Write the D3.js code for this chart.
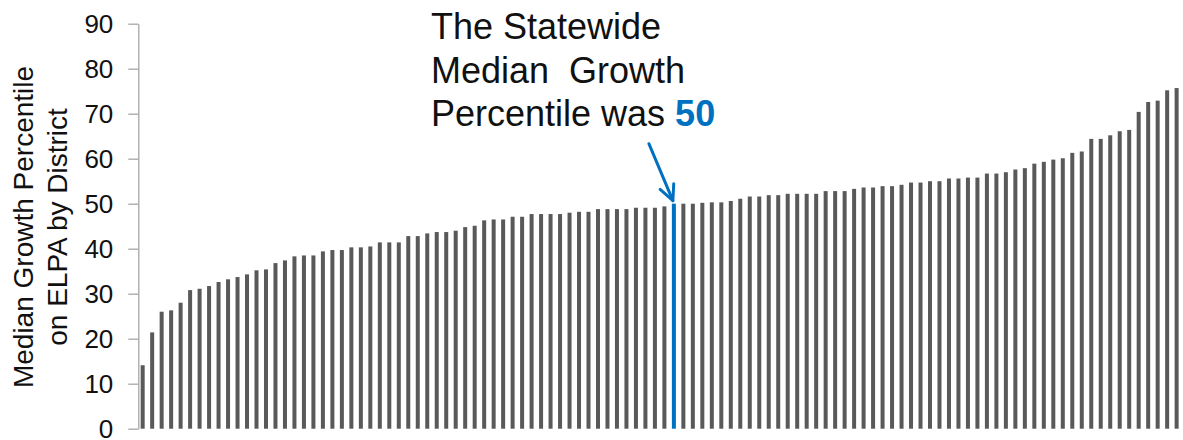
<!DOCTYPE html>
<html>
<head>
<meta charset="utf-8">
<script src="https://cdn.jsdelivr.net/npm/d3@7"></script>
<style>
  html, body { margin: 0; padding: 0; background: #ffffff; }
  svg { display: block; }
  text { font-family: "Liberation Sans", Arial, sans-serif; }
</style>
</head>
<body>
<svg id="chart" width="1183" height="440"></svg>
<script>
// ---- Data (districts sorted by Median Growth Percentile on ELPA) ----
const values = [
  14.1, 21.4, 26.0, 26.3, 28.0, 30.8, 31.1, 31.7, 32.6, 33.2,
  33.7, 34.3, 35.2, 35.4, 36.8, 37.4, 38.3, 38.5, 38.5, 39.4,
  39.7, 39.7, 40.3, 40.3, 40.5, 41.4, 41.4, 41.4, 42.8, 42.8,
  43.4, 43.7, 43.7, 44.0, 44.8, 45.1, 46.3, 46.5, 46.5, 47.1,
  47.1, 47.7, 47.7, 47.7, 47.7, 48.0, 48.2, 48.2, 48.8, 48.8,
  48.8, 48.8, 49.1, 49.1, 49.1, 49.4, 50.0, 50.0, 50.0, 50.2,
  50.3, 50.3, 50.6, 51.1, 51.6, 51.6, 51.9, 51.9, 52.2, 52.2,
  52.2, 52.2, 52.8, 52.8, 52.8, 53.3, 53.6, 53.6, 53.9, 53.9,
  54.2, 54.7, 54.7, 55.0, 55.0, 55.6, 55.6, 55.8, 55.8, 56.7,
  56.7, 57.0, 57.6, 57.9, 58.9, 59.3, 59.8, 60.1, 61.3, 61.6,
  64.4, 64.4, 65.2, 66.1, 66.4, 70.4, 72.6, 72.9, 75.2, 75.7
];
const districts = values.map((d, i) => "District " + (i + 1));
const medianIndex = 56;           // statewide median district (highlighted)
const statewideMedian = 50;
const yTicks = [0, 10, 20, 30, 40, 50, 60, 70, 80, 90];
const yTitleLines = ["Median Growth Percentile", "on ELPA by District"];
const noteLines = ["The Statewide", "Median  Growth", "Percentile was "];
const noteValue = "50";

// ---- Layout ----
const svg = d3.select("#chart");
const axisX = 138.3;
const x = d3.scaleBand()
  .domain(districts)
  .range([axisX, 1181])
  .paddingInner(0.578)
  .paddingOuter(0.25);
const y = d3.scaleLinear().domain([0, 90]).range([428.7, 23.7]);

const blue = "#0070C0";
const gray = "#595959";

// ---- Bars ----
svg.append("g").selectAll("rect")
  .data(values)
  .join("rect")
  .attr("x", (d, i) => x(districts[i]))
  .attr("width", x.bandwidth())
  .attr("y", d => y(d))
  .attr("height", d => y(0) - y(d))
  .attr("fill", (d, i) => i === medianIndex ? blue : gray);

// ---- Y axis ----
const yAxis = svg.append("g")
  .attr("transform", `translate(${axisX},0)`)
  .call(d3.axisLeft(y).tickValues(yTicks).tickSize(10).tickSizeOuter(0).tickPadding(15));
yAxis.select(".domain").attr("stroke", "#a6a6a6").attr("stroke-width", 1.3);
yAxis.selectAll(".tick line").attr("stroke", "#a6a6a6").attr("stroke-width", 1.3);
yAxis.selectAll(".tick text")
  .attr("font-size", 26)
  .attr("fill", "#111")
  .style("font-family", "'Liberation Sans', Arial, sans-serif");

// ---- Y title (two lines) ----
const titleBaselines = [33.3, 66.7];
yTitleLines.forEach((t, i) => {
  svg.append("text")
    .attr("transform", `translate(${titleBaselines[i]},227) rotate(-90)`)
    .attr("text-anchor", "middle")
    .attr("font-size", 28)
    .attr("fill", "#111")
    .text(t);
});

// ---- Annotation ----
const noteX = 431;
const noteBaselines = [39, 83, 126];
noteLines.forEach((t, i) => {
  const tx = svg.append("text")
    .attr("x", noteX)
    .attr("y", noteBaselines[i])
    .attr("font-size", 36)
    .attr("fill", "#111")
    .attr("xml:space", "preserve")
    .style("white-space", "pre")
    .text(t);
  if (i === noteLines.length - 1) {
    tx.append("tspan")
      .attr("font-weight", "bold")
      .attr("fill", blue)
      .text(noteValue);
  }
});

// ---- Arrow pointing at the median bar ----
const tipX = x(districts[medianIndex]) + x.bandwidth() / 2 - 1;
const tipY = y(statewideMedian) - 3;
const startX = tipX - 24, startY = tipY - 57;
const ang = Math.atan2(tipY - startY, tipX - startX);
const headLen = 17, headAng = Math.PI / 7;
svg.append("line")
  .attr("x1", startX).attr("y1", startY)
  .attr("x2", tipX).attr("y2", tipY)
  .attr("stroke", blue).attr("stroke-width", 3).attr("stroke-linecap", "round");
svg.append("path")
  .attr("d", d3.line()([
    [tipX - headLen * Math.cos(ang - headAng), tipY - headLen * Math.sin(ang - headAng)],
    [tipX, tipY],
    [tipX - headLen * Math.cos(ang + headAng), tipY - headLen * Math.sin(ang + headAng)]
  ]))
  .attr("fill", "none")
  .attr("stroke", blue).attr("stroke-width", 3)
  .attr("stroke-linecap", "round").attr("stroke-linejoin", "round");
</script>
</body>
</html>
